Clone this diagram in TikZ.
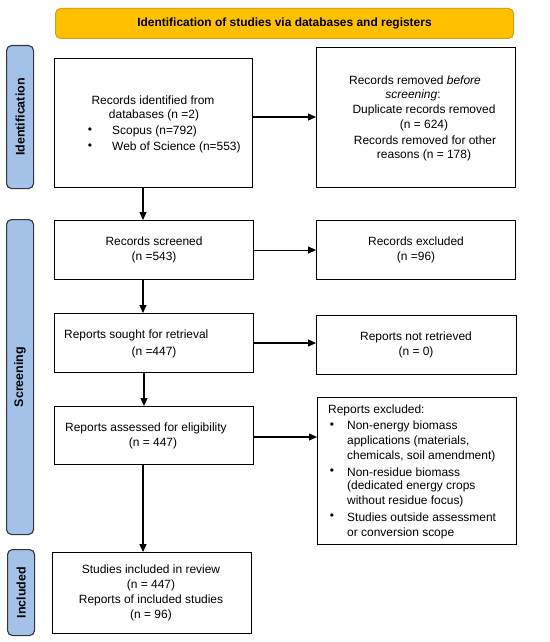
\documentclass[tikz,border=0pt]{standalone}
\usepackage{fontspec}
\setmainfont{Liberation Sans}
\usetikzlibrary{arrows.meta}
\definecolor{bannerfill}{HTML}{FFC000}
\definecolor{bannerline}{HTML}{D4A017}
\definecolor{sidefill}{HTML}{A4C2E8}
\definecolor{sideline}{HTML}{2E3440}
\tikzset{
  box/.style={draw=black, line width=1.1bp, inner sep=0pt, anchor=north west},
  txt/.style={font=\fontsize{12}{15}\selectfont, inner sep=0pt, align=center},
  ltxt/.style={font=\fontsize{12}{15}\selectfont, inner sep=0pt, anchor=west},
  sidebar/.style={draw=sideline, fill=sidefill, line width=1.1bp, rounded corners=5bp, inner sep=0pt, anchor=north west},
  sidelab/.style={font=\bfseries\fontsize{12.5}{15}\selectfont, rotate=90, inner sep=0pt},
  arr/.style={-{Triangle[length=8bp,width=7bp]}, line width=1.1bp},
}
\begin{document}
\begin{tikzpicture}[x=1bp,y=-1bp]
\useasboundingbox (0,0) rectangle (550,642);
% banner
\node[draw=bannerline, fill=bannerfill, line width=1bp, rounded corners=5bp, inner sep=0pt, anchor=north west,
      minimum width=458bp, minimum height=30bp] (banner) at (55,8) {};
\node[font=\bfseries\fontsize{12}{15}\selectfont, inner sep=0pt] (bannertxt) at (banner.center) {Identification of studies via databases and registers};
% side bars
\node[sidebar, minimum width=27bp, minimum height=143bp] (sid) at (6,45) {};
\node[sidelab] (sidl) at (sid.center) {Identification};
\node[sidebar, minimum width=27bp, minimum height=315bp] (sscr) at (6,219) {};
\node[sidelab] (sscrl) at (sscr.center) {Screening};
\node[sidebar, minimum width=27bp, minimum height=86bp] (sinc) at (7,549) {};
\node[sidelab] (sincl) at (sinc.center) {Included};
% boxes
\node[box, minimum width=198bp, minimum height=129bp] (b1) at (54,58) {};
\node[box, minimum width=199bp, minimum height=140bp] (r1) at (316,47) {};
\node[box, minimum width=199bp, minimum height=59bp] (b2) at (54,220) {};
\node[box, minimum width=199bp, minimum height=59bp] (r2) at (316,220) {};
\node[box, minimum width=199bp, minimum height=59bp] (b3) at (54,313) {};
\node[box, minimum width=200bp, minimum height=59bp] (r3) at (316,315) {};
\node[box, minimum width=199bp, minimum height=58bp] (b4) at (54,406) {};
\node[box, minimum width=199bp, minimum height=147bp] (r4) at (317,397) {};
\node[box, minimum width=199bp, minimum height=81bp] (b5) at (52,552) {};
% texts box 1
\node[txt] (t1a) at (153,100) {Records identified from};
\node[txt] (t1b) at (154,115) {databases (n =2)};
\node[txt] (t1c) at (90,131) {\textbullet};
\node[ltxt] (t1d) at (112,131) {Scopus (n=792)};
\node[txt] (t1e) at (90,147) {\textbullet};
\node[ltxt] (t1f) at (112,147) {Web of Science (n=553)};
% right 1
\node[txt] (tr1a) at (415,80) {Records removed \textit{before}};
\node[txt] (tr1b) at (413,95) {\textit{screening}:};
\node[txt] (tr1c) at (424,110) {Duplicate records removed};
\node[txt] (tr1d) at (424,125) {(n = 624)};
\node[txt] (tr1e) at (425,140) {Records removed for other};
\node[txt] (tr1f) at (424,155) {reasons (n = 178)};
% box 2
\node[txt] (t2) at (b2.center) {Records screened\\(n =543)};
\node[txt] (tr2) at (r2.center) {Records excluded\\(n =96)};
% box 3
\node[ltxt] (t3a) at (64,335) {Reports sought for retrieval};
\node[txt] (t3b) at (154,352) {(n =447)};
\node[txt] (tr3) at (416,345) {Reports not retrieved\\(n = 0)};
% box 4
\node[ltxt] (t4a) at (65,428) {Reports assessed for eligibility};
\node[txt] (t4b) at (153,443) {(n = 447)};
% right 4
\node[ltxt] (tr4a) at (328,410) {Reports excluded:};
\node[txt] (tr4b1) at (332,426) {\textbullet};
\node[ltxt] (tr4b) at (347,426) {Non-energy biomass};
\node[ltxt] (tr4c) at (347,441) {applications (materials,};
\node[ltxt] (tr4d) at (347,456) {chemicals, soil amendment)};
\node[txt] (tr4e1) at (332,472) {\textbullet};
\node[ltxt] (tr4e) at (347,472) {Non-residue biomass};
\node[ltxt] (tr4f) at (347,486) {(dedicated energy crops};
\node[ltxt] (tr4g) at (347,501) {without residue focus)};
\node[txt] (tr4h1) at (332,517) {\textbullet};
\node[ltxt] (tr4h) at (347,517) {Studies outside assessment};
\node[ltxt] (tr4i) at (347,533) {or conversion scope};
% box 5
\node[txt] (t5) at (151,593) {Studies included in review\\(n = 447)\\Reports of included studies\\(n = 96)};
% arrows
\draw[arr] (b1.east |- 0,117) -- (r1.west |- 0,117);
\draw[arr] (b2.east) -- (r2.west |- b2.east);
\draw[arr] (b3.east |- 0,343) -- (r3.west |- 0,343);
\draw[arr] (b4.east |- 0,437) -- (r4.west |- 0,437);
\draw[arr] (143,187) coordinate (d1s) -- (b2.north -| d1s);
\draw[arr] (143,279) coordinate (d2s) -- (b3.north -| d2s);
\draw[arr] (144,372) coordinate (d3s) -- (b4.north -| d3s);
\draw[arr] (143,464) coordinate (d4s) -- (b5.north -| d4s);
\end{tikzpicture}
\end{document}
